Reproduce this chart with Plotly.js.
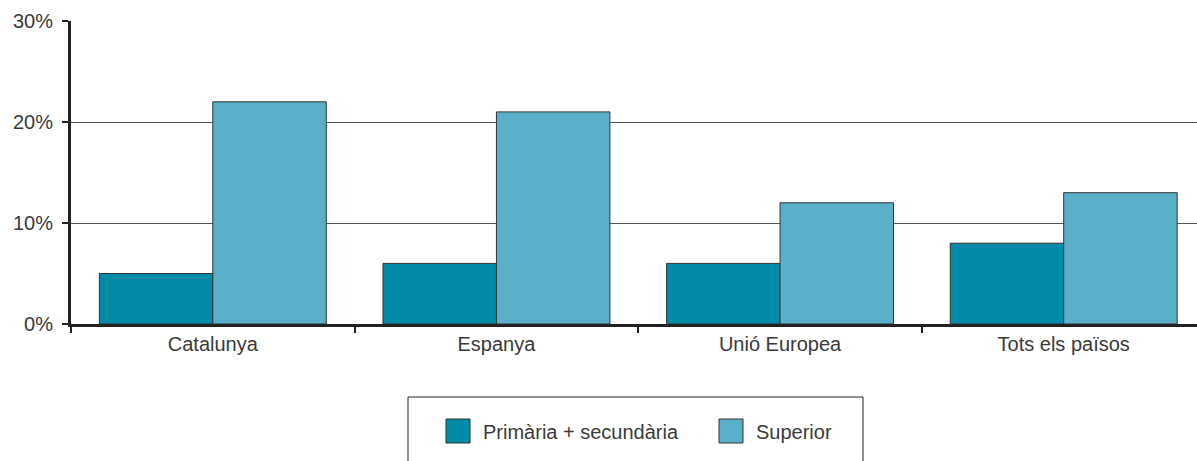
<!DOCTYPE html>
<html>
<head>
<meta charset="utf-8">
<script src="https://cdn.plot.ly/plotly-3.0.1.min.js"></script>
<style>html,body{margin:0;padding:0;background:#fff;}#chart{width:1197px;height:461px;}</style>
</head>
<body>
<div id="chart"></div>
<script>
const categories = ["Catalunya", "Espanya", "Unió Europea", "Tots els països"];
const seriesNames = ["Primària + secundària", "Superior"];
const primariaSecundaria = [5, 6, 6, 8];
const superior = [22, 21, 12, 13];
const yTickVals = [0, 10, 20, 30];
const yTickText = ["0%", "10%", "20%", "30%"];
const colors = ["#008ca8", "#5ab0c8"];

const W = 1197, H = 461;
const L = 71, R = 0, T = 21, B = 137;
const pw = W - L - R, ph = H - T - B;
function px(x) { return (x - L) / pw; }
function py(y) { return (H - B - y) / ph; }

const font = {family: "Liberation Sans, Arial, sans-serif", size: 20, color: "#3a3a3a"};

const traces = [
  {type: "bar", name: seriesNames[0], x: categories, y: primariaSecundaria,
   marker: {color: colors[0], line: {color: "#333", width: 1}}, showlegend: false, hoverinfo: "x+y"},
  {type: "bar", name: seriesNames[1], x: categories, y: superior,
   marker: {color: colors[1], line: {color: "#333", width: 1}}, showlegend: false, hoverinfo: "x+y"}
];

const shapes = [
  {type: "rect", xref: "paper", yref: "paper", x0: px(408), x1: px(863), y0: py(397), y1: py(475),
   line: {color: "#222", width: 1}, fillcolor: "rgba(0,0,0,0)"},
  {type: "rect", xref: "paper", yref: "paper", x0: px(446), x1: px(470), y0: py(419), y1: py(443),
   line: {color: "#333", width: 1}, fillcolor: colors[0]},
  {type: "rect", xref: "paper", yref: "paper", x0: px(719), x1: px(743), y0: py(419), y1: py(443),
   line: {color: "#333", width: 1}, fillcolor: colors[1]}
];

const annotations = [
  {xref: "paper", yref: "paper", x: px(481), y: py(432), xanchor: "left", yanchor: "middle",
   text: seriesNames[0], showarrow: false, font: font},
  {xref: "paper", yref: "paper", x: px(754), y: py(432), xanchor: "left", yanchor: "middle",
   text: seriesNames[1], showarrow: false, font: font}
];

const layout = {
  width: W, height: H,
  margin: {l: L, r: R, t: T, b: B, pad: 0},
  paper_bgcolor: "#fff", plot_bgcolor: "#fff",
  barmode: "group", bargap: 0.2, bargroupgap: 0,
  font: font,
  showlegend: false,
  xaxis: {
    type: "category", range: [-0.5, 3.47],
    showline: true, linecolor: "#222", linewidth: 3,
    ticks: "outside", tickson: "boundaries", ticklen: 6, tickwidth: 2, tickcolor: "#222",
    showgrid: false, zeroline: false,
    tickfont: font,
    fixedrange: true
  },
  yaxis: {
    range: [0, 30], tickvals: yTickVals, ticktext: yTickText,
    showline: true, linecolor: "#222", linewidth: 3,
    ticks: "outside", ticklen: 6, tickwidth: 2, tickcolor: "#222",
    showgrid: true, gridcolor: "#555", gridwidth: 1,
    zeroline: false,
    tickfont: font,
    ticklabelstandoff: 5,
    fixedrange: true
  },
  shapes: shapes,
  annotations: annotations
};

Plotly.newPlot("chart", traces, layout, {displayModeBar: false, staticPlot: true});
</script>
</body>
</html>
